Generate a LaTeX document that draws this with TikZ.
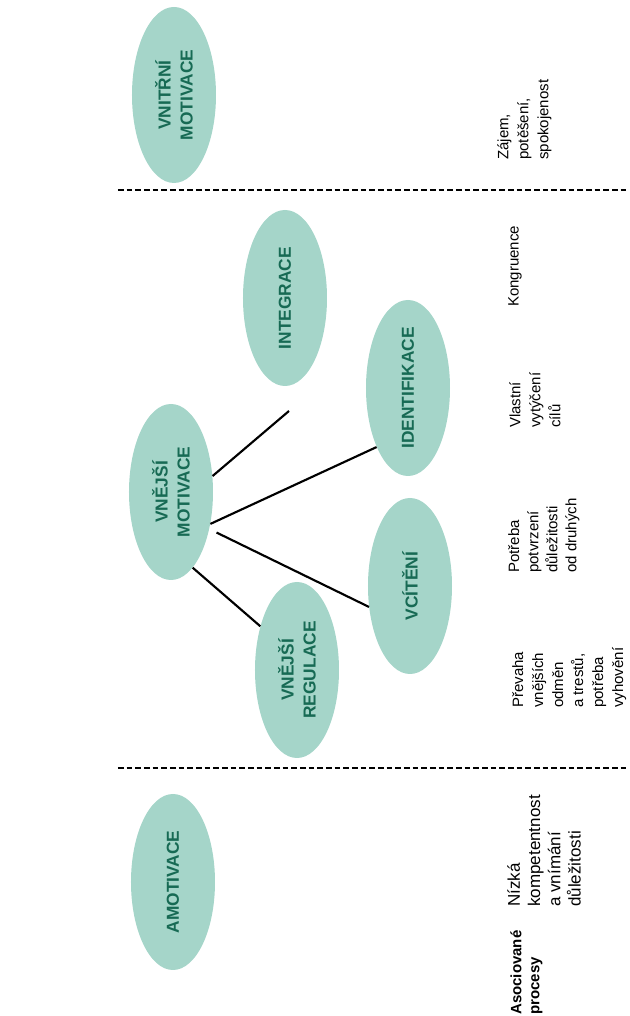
\documentclass[tikz,border=0pt]{standalone}
\usepackage{fontspec}
\setmainfont{Liberation Sans}
\usetikzlibrary{shapes.geometric}
\definecolor{ovalfill}{RGB}{165,213,201}
\definecolor{ovaltext}{RGB}{23,106,84}

\begin{document}
\begin{tikzpicture}[x=0.75pt, y=0.75pt, rotate=90, transform shape,
	oval/.style={ellipse, fill=ovalfill, minimum width=132pt, minimum height=63pt, inner sep=0pt,
		align=center, text=ovaltext, font=\bfseries\fontsize{13}{16.5}\selectfont},
	desc/.style={anchor=north west, inner sep=0pt, align=left, font=\fontsize{11.25}{15}\selectfont},
	sepline/.style={line width=1.5pt, dash pattern=on 4.2pt off 2.3pt},
	link/.style={line width=1.6pt}]
	\useasboundingbox (0,0) rectangle (1016,629);
	\coordinate (sepA1) at (826,511);
	\coordinate (sepA2) at (826,0);
	\coordinate (sepB1) at (248,511);
	\coordinate (sepB2) at (248,0);
	\draw[sepline] (sepA1) -- (sepA2);
	\draw[sepline] (sepB1) -- (sepB2);
	\node[oval] (vnitrni) at (921,455) {VNITŘNÍ\\MOTIVACE};
	\node[oval] (integrace) at (718,344) {INTEGRACE};
	\node[oval] (identif) at (628,221) {IDENTIFIKACE};
	\node[oval] (vciteni) at (430,219) {VCÍTĚNÍ};
	\node[oval] (vnejsi) at (524,458) {VNĚJŠÍ\\MOTIVACE};
	\node[oval] (regulace) at (346,332) {VNĚJŠÍ\\REGULACE};
	\node[oval] (amotiv) at (134,456) {AMOTIVACE};
	\coordinate (intend) at (605,340);
	\draw[link] (vnejsi.-69) -- (intend);
	\draw[link] (vnejsi.-129.5) -- (identif.152.3);
	\draw[link, shorten <=6pt] (vnejsi.-134) -- (vciteni.117.6);
	\draw[link] (vnejsi.-164) -- (regulace.40.2);
	\node[desc, font=\bfseries\fontsize{11.25}{13.5}\selectfont] (asoc) at (1,119) {Asociované\\procesy};
	\node[desc, font=\fontsize{12.75}{15.2}\selectfont] (nizka) at (109,122) {Nízká\\kompetentnost\\a vnímání\\důležitosti};
	\node[desc] (prevaha) at (308,117) {Převaha\\vnějších\\odměn\\a trestů,\\potřeba\\vyhovění};
	\node[desc, font=\fontsize{11.25}{14.3}\selectfont] (potreba) at (443,121) {Potřeba\\potvrzení\\důležitosti\\od druhých};
	\node[desc] (vlastni) at (588,120) {Vlastní\\vytýčení\\cílů};
	\node[desc] (kongr) at (709,121) {Kongruence};
	\node[desc] (zajem) at (856,132) {Zájem,\\potěšení,\\spokojenost};
\end{tikzpicture}
\end{document}
